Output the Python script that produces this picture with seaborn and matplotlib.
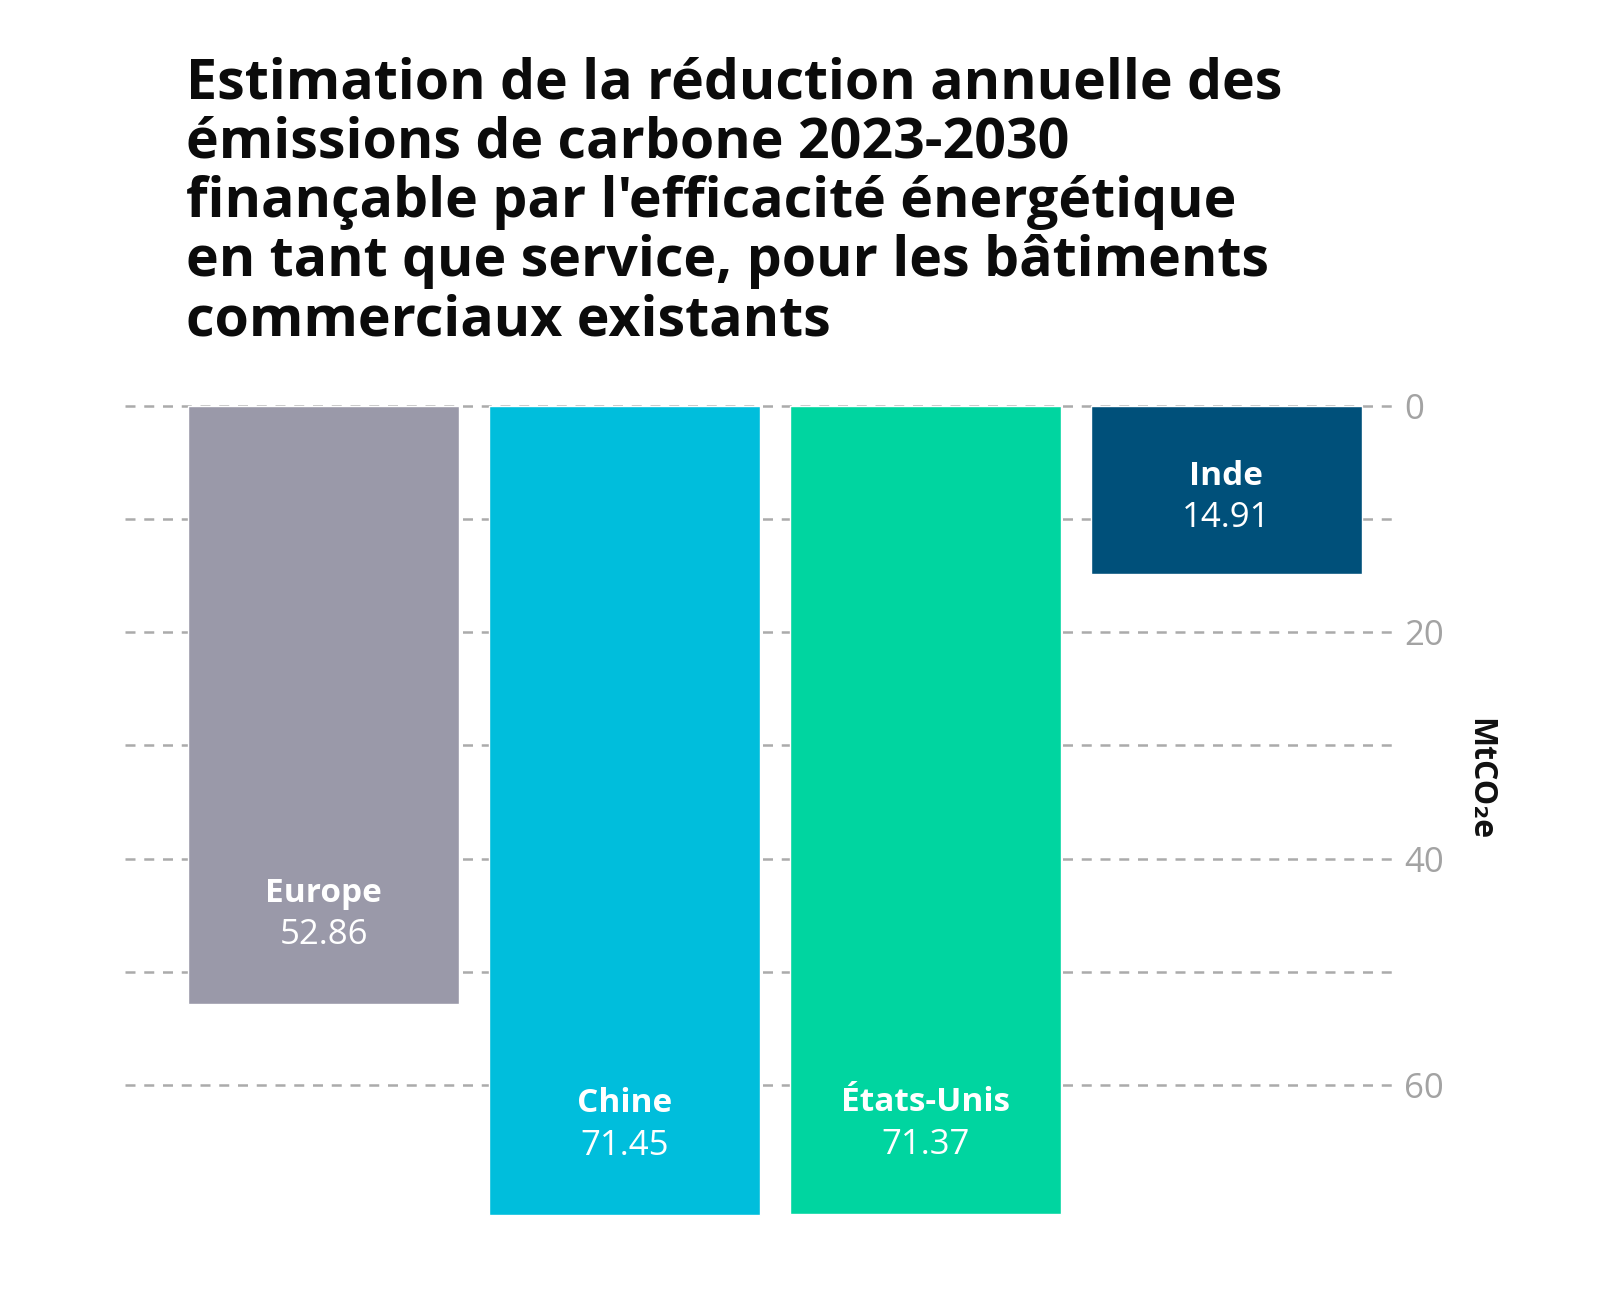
import numpy as np
import pandas as pd
import matplotlib
matplotlib.use("Agg")
import matplotlib.pyplot as plt
import seaborn as sns

# ==========================
# DONNÉES
# ==========================

regions = ["Europe", "Chine", "États-Unis", "Inde"]
reduction = [52.86, 71.45, 71.37, 14.91]
couleurs = ["#9a99a9", "#00bedc", "#00d5a0", "#00507a"]

grid_ticks = [0, 10, 20, 30, 40, 50, 60]
tick_labels = ["0", "", "20", "", "40", "", "60"]

titre = ("Estimation de la réduction annuelle des\n"
         "émissions de carbone 2023-2030\n"
         "finançable par l'efficacité énergétique\n"
         "en tant que service, pour les bâtiments\n"
         "commerciaux existants")
unite = "MtCO₂e"

df = pd.DataFrame({"region": regions, "valeur": reduction})

# ==========================
# FIGURE
# ==========================

sns.set_theme(style="white")
plt.rcParams["font.family"] = ["Open Sans", "DejaVu Sans"]

fig = plt.figure(figsize=(16, 12.94), dpi=100)
ax = fig.add_axes([0.078, 0.030, 0.7925, 0.661])

ax.set_axisbelow(True)
ax.yaxis.grid(True, color="#ababab", linewidth=1.8, linestyle=(0, (4, 3.5)))

sns.barplot(data=df, x="region", y="valeur", hue="region",
            palette=couleurs, width=0.9, saturation=1,
            legend=False, ax=ax)

ax.set_ylim(75, -0.5)
ax.set_xlim(-0.661, 3.553)

ax.set_yticks(grid_ticks)
ax.set_yticklabels(tick_labels)
ax.yaxis.tick_right()
ax.tick_params(axis="y", length=0, pad=8, labelsize=25, labelcolor="#a3a3a3")
ax.set_xticks([])
ax.set_xlabel("")
ax.set_ylabel("")
for s in ax.spines.values():
    s.set_visible(False)

# étiquettes dans les barres
for i, (nom, val) in enumerate(zip(regions, reduction)):
    if val < 20:
        ax.annotate(nom, (i, val / 2), xytext=(0, 10), textcoords="offset points",
                    ha="center", va="center", color="white",
                    fontsize=24, fontweight="bold")
        ax.annotate(f"{val:.2f}", (i, val / 2), xytext=(0, -20), textcoords="offset points",
                    ha="center", va="center", color="white", fontsize=25)
    else:
        ax.annotate(nom, (i, val), xytext=(0, 80), textcoords="offset points",
                    ha="center", va="center", color="white",
                    fontsize=24, fontweight="bold")
        ax.annotate(f"{val:.2f}", (i, val), xytext=(0, 50), textcoords="offset points",
                    ha="center", va="center", color="white", fontsize=25)

fig.text(0.925, 0.398, unite, rotation=270, ha="center", va="center",
         fontsize=23, fontweight="bold", color="#111111")

fig.text(0.116, 0.9565, titre, ha="left", va="top", fontsize=40,
         fontweight="bold", color="#0b0b0b", linespacing=1.10)

fig.savefig("out.png", dpi=100, facecolor="white")
